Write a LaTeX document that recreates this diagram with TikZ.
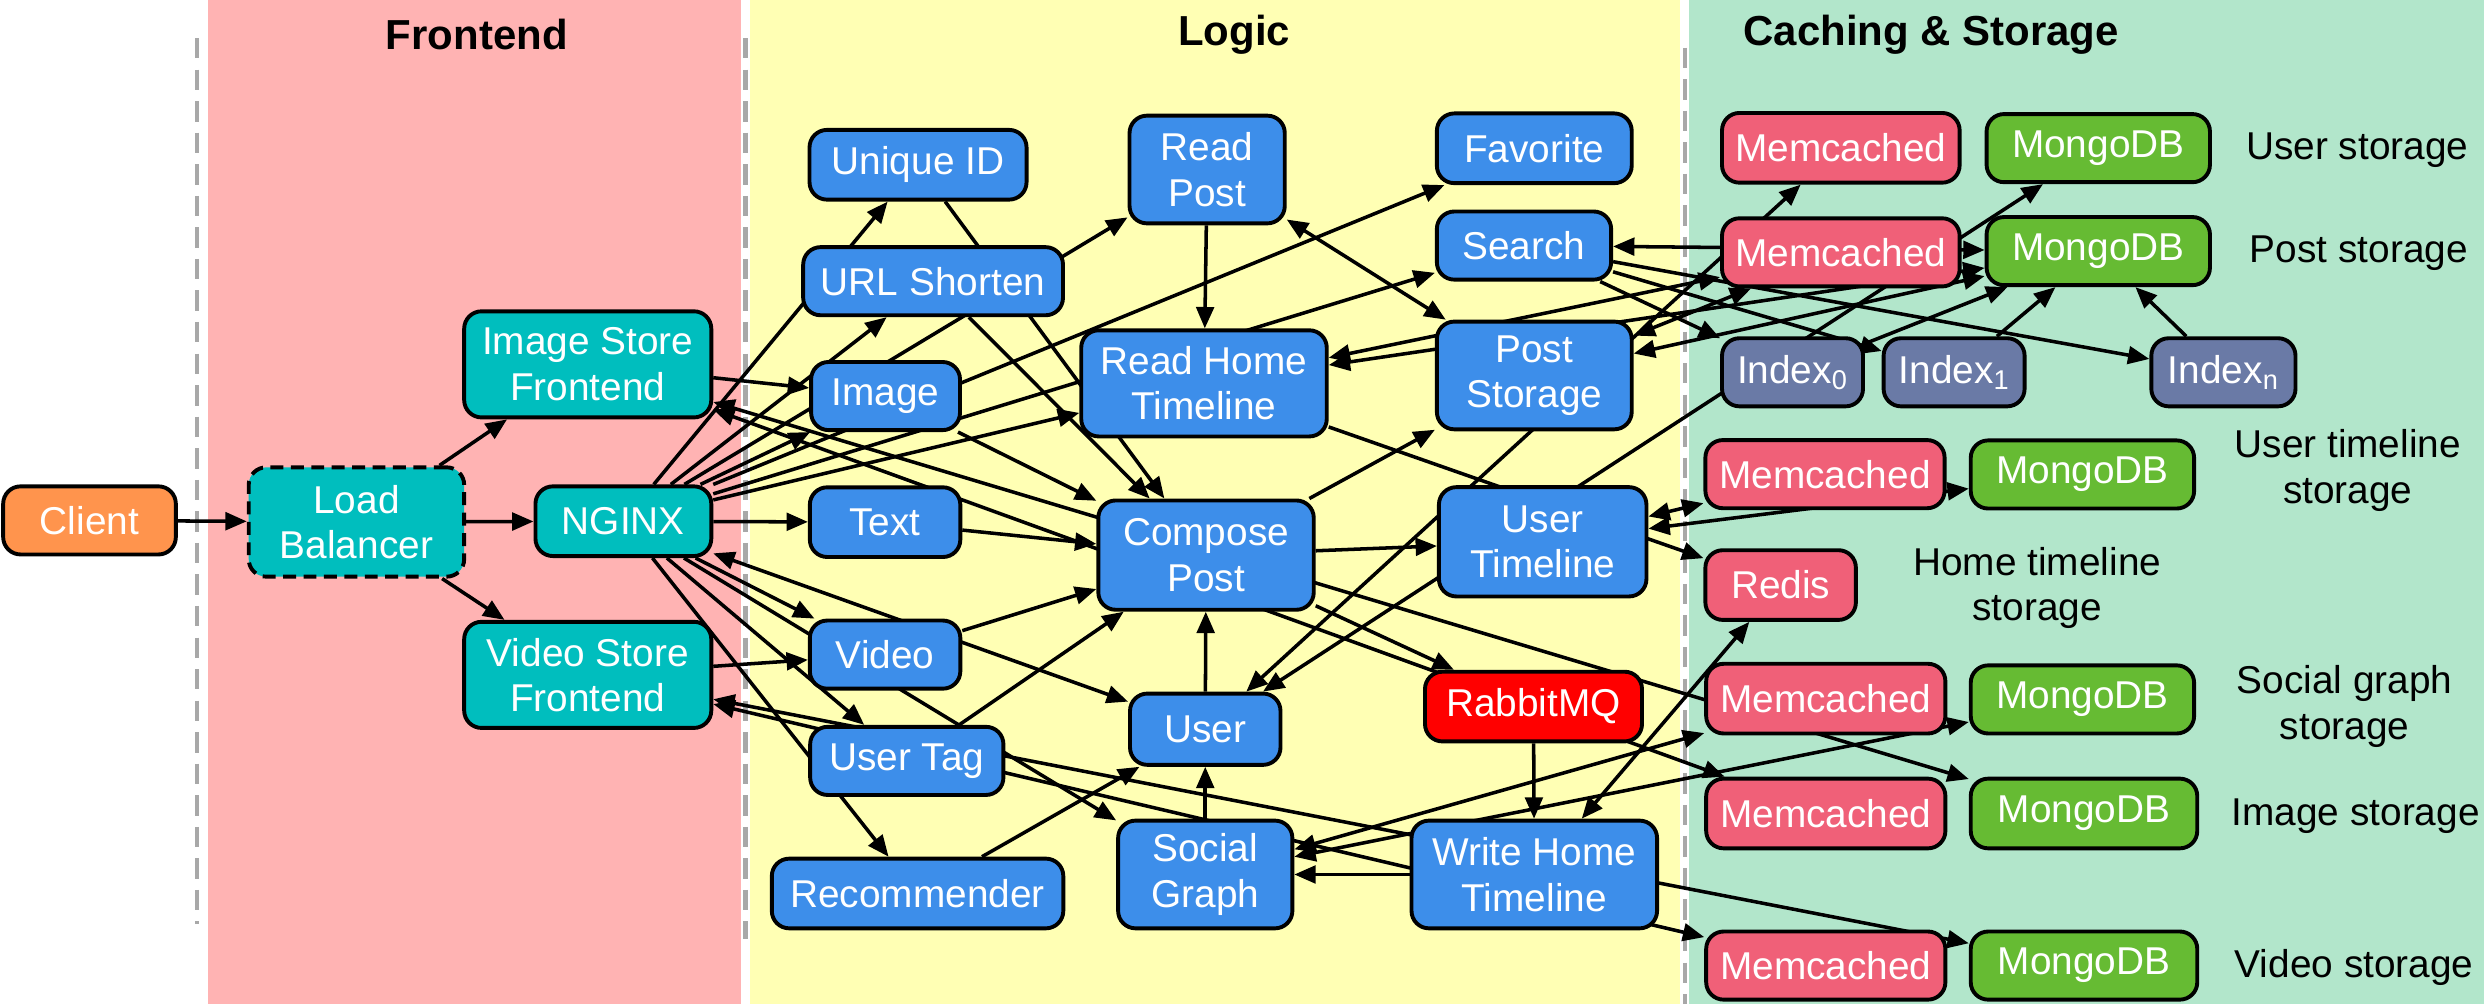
\documentclass[tikz,border=0pt]{standalone}
\usepackage{fontspec}
\setmainfont{Liberation Sans}
\usetikzlibrary{arrows.meta}
\definecolor{bandPink}{HTML}{FFB3B3}
\definecolor{bandYellow}{HTML}{FFFFB4}
\definecolor{bandGreen}{HTML}{B2E6CB}
\definecolor{cOrange}{HTML}{FF944D}
\definecolor{cTeal}{HTML}{00BEBE}
\definecolor{cBlue}{HTML}{3D8EEA}
\definecolor{cMem}{HTML}{F06078}
\definecolor{cMongo}{HTML}{66BB33}
\definecolor{cIndex}{HTML}{6A7AA6}
\definecolor{cRed}{HTML}{FF0000}
\definecolor{cDash}{HTML}{A8A8A8}
\newcommand{\nfont}{\fontsize{20.9pt}{24.5pt}\selectfont}
\newcommand{\tfont}{\fontsize{22.6pt}{26pt}\selectfont\bfseries}
\pgfdeclarelayer{bg}
\pgfdeclarelayer{edges}
\pgfsetlayers{bg,edges,main}
\tikzset{
  box/.style={draw=black, line width=2.1pt, rounded corners=0.33cm, text=white,
    align=center, inner sep=0pt, font=\nfont},
  sz/.style 2 args={minimum width=#1*0.03cm, minimum height=#2*0.03cm},
  front/.style={box, fill=cTeal},
  logic/.style={box, fill=cBlue},
  mem/.style={box, fill=cMem},
  mongo/.style={box, fill=cMongo},
  idx/.style={box, fill=cIndex},
  lbl/.style={align=center, font=\nfont, text=black},
  ttl/.style={font=\tfont, text=black},
  sep/.style={draw=cDash, line width=2.4pt, dash pattern=on 11pt off 6pt},
  e/.style={line width=1.9pt, -{Triangle[length=11.5pt,width=9.5pt]}},
  bi/.style={line width=1.9pt, {Triangle[length=11.5pt,width=9.5pt]}-{Triangle[length=11.5pt,width=9.5pt]}},
}
\begin{document}
\begin{tikzpicture}[x=0.03cm, y=-0.03cm]
\useasboundingbox (0,0) rectangle (1568,634);
\begin{pgfonlayer}{bg}
  \fill[white] (0,0) rectangle (1568,634);
  \fill[bandPink] (131.5,0) rectangle (468,634);
  \fill[bandYellow] (473.5,0) rectangle (1060.5,634);
  \fill[bandGreen] (1066,0) rectangle (1568,634);
  \draw[sep] (124.5,24) -- (124.5,583);
  \draw[sep] (470.5,24) -- (470.5,593);
  \draw[sep] (1063.5,30) -- (1063.5,634);
\end{pgfonlayer}

% titles
\node[ttl] (tFront) at (301,22) {Frontend};
\node[ttl] (tLogic) at (779,22) {Logic};
\node[ttl] (tStore) at (1219,22) {Caching \& Storage};

% frontend
\node[box, fill=cOrange, sz={109}{43}] (client) at (56.5,328.5) {Client};
\node[front, sz={136}{69}, dash pattern=on 7pt off 4pt] (lb) at (225,329.5) {Load\\Balancer};
\node[front, sz={156}{67}] (isf) at (371,230) {Image Store\\Frontend};
\node[front, sz={111}{44}] (nginx) at (393.5,329) {NGINX};
\node[front, sz={156}{67}] (vsf) at (371,426) {Video Store\\Frontend};

% logic
\node[logic, sz={137}{44}] (uid) at (579.5,104) {Unique ID};
\node[logic, sz={164}{43}] (url) at (589,177.5) {URL Shorten};
\node[logic, sz={98}{68}] (rp) at (762,107) {Read\\Post};
\node[logic, sz={123}{44}] (fav) at (968.5,93.6) {Favorite};
\node[logic, sz={110}{43}] (search) at (962,155) {Search};
\node[logic, sz={94}{43}] (img) at (559,250) {Image};
\node[logic, sz={155}{67}] (rht) at (760,242) {Read Home\\Timeline};
\node[logic, sz={123}{68}] (ps) at (968.5,237) {Post\\Storage};
\node[logic, sz={95}{44}] (txt) at (558.7,329.6) {Text};
\node[logic, sz={136}{69}] (cp) at (761.3,350.4) {Compose\\Post};
\node[logic, sz={131}{69}] (ut) at (973.8,342) {User\\Timeline};
\node[logic, sz={95}{43}] (video) at (558.7,413.2) {Video};
\node[logic, sz={95}{45}] (user) at (760.8,460.3) {User};
\node[box, fill=cRed, sz={137}{44}] (rmq) at (968,446) {RabbitMQ};
\node[logic, sz={122}{43}] (utag) at (572.4,480.3) {User Tag};
\node[logic, sz={184}{44}] (rec) at (579.2,564) {Recommender};
\node[logic, sz={110}{68}] (sg) at (760.8,552) {Social\\Graph};
\node[logic, sz={155}{68}] (wht) at (968.5,552) {Write Home\\Timeline};

% storage
\node[mem, sz={150}{44}] (m1) at (1162,93.3) {Memcached};
\node[mongo, sz={141}{43}] (g1) at (1324.5,93.5) {MongoDB};
\node[mem, sz={150}{43}] (m2) at (1162,159.3) {Memcached};
\node[mongo, sz={141}{43}] (g2) at (1324.5,158.5) {MongoDB};
\node[idx, sz={89}{43}] (i0) at (1131.5,235) {Index\textsubscript{0}};
\node[idx, sz={89}{43}] (i1) at (1233.5,235) {Index\textsubscript{1}};
\node[idx, sz={91}{43}] (ixn) at (1403.5,235) {Index\textsubscript{n}};
\node[mem, sz={151}{43}] (m3) at (1152,299.3) {Memcached};
\node[mongo, sz={141}{43}] (g3) at (1314.5,299.5) {MongoDB};
\node[mem, sz={95}{44}] (redis) at (1124,369.3) {Redis};
\node[mem, sz={151}{44}] (m4) at (1152.5,441) {Memcached};
\node[mongo, sz={141}{43}] (g4) at (1314.5,441.5) {MongoDB};
\node[mem, sz={151}{44}] (m5) at (1152.5,513.5) {Memcached};
\node[mongo, sz={143}{44}] (g5) at (1315.5,513.5) {MongoDB};
\node[mem, sz={151}{43}] (m6) at (1152.5,609.5) {Memcached};
\node[mongo, sz={143}{43}] (g6) at (1315.5,609.5) {MongoDB};

\node[lbl] (l1) at (1488,95) {User storage};
\node[lbl] (l2) at (1489,160) {Post storage};
\node[lbl] (l3) at (1482,297) {User timeline\\storage};
\node[lbl] (l4) at (1286,371) {Home timeline\\storage};
\node[lbl] (l5) at (1480,446) {Social graph\\storage};
\node[lbl] (l6) at (1487,515) {Image storage};
\node[lbl] (l7) at (1486,611) {Video storage};

\begin{pgfonlayer}{edges}
  \draw[e] (client) -- (lb);
  \draw[e] (lb) -- (isf);
  \draw[e] (lb) -- (nginx);
  \draw[e] (lb) -- (vsf);
  \draw[e] (isf) -- (img);
  \draw[e] (vsf) -- (video);
  \draw[e] (nginx) -- (txt);
  \draw[e] (nginx) -- (uid);
  \draw[e] (nginx) -- (url);
  \draw[e] (nginx) -- (rp);
  \draw[e] (nginx) -- (img);
  \draw[e] (nginx) -- (fav);
  \draw[e] (nginx) -- (search);
  \draw[e] (nginx) -- (rht);
  \draw[e] (nginx) -- (video);
  \draw[e] (nginx) -- (utag);
  \draw[e] (nginx) -- (rec);
  \draw[e] (nginx) -- (sg);
  \draw[bi] (nginx) -- (user);
  \draw[e] (txt) -- (cp);
  \draw[e] (img) -- (cp);
  \draw[e] (video) -- (cp);
  \draw[e] (utag) -- (cp);
  \draw[e] (uid) -- (cp);
  \draw[e] (url) -- (cp);
  \draw[e] (user) -- (cp);
  \draw[e] (rec) -- (user);
  \draw[e] (sg) -- (user);
  \draw[e] (rp) -- (rht);
  \draw[bi] (rp) -- (ps);
  \draw[e] (cp) -- (ps);
  \draw[e] (cp) -- (ut);
  \draw[e] (cp) -- (rmq);
  \draw[e] (rmq) -- (wht);
  \draw[e] (wht) -- (sg);
  \draw[bi] (wht) -- (redis);
  \draw[e] (rht) -- (redis);
  \draw[bi] (rht) -- (m2);
  \draw[bi] (rht) -- (g2);
  \draw[bi] (ps) -- (m2);
  \draw[bi] (ps) -- (g2);
  \draw[bi] (search) -- (g2);
  \draw[e] (search) -- (i0);
  \draw[e] (search) -- (i1);
  \draw[e] (search) -- (ixn);
  \draw[e] (i0) -- (g2);
  \draw[e] (i1) -- (g2);
  \draw[e] (ixn) -- (g2);
  \draw[bi] (user) -- (m1);
  \draw[bi] (user) -- (g1);
  \draw[bi] (ut) -- (m3);
  \draw[bi] (ut) -- (g3);
  \draw[bi] (sg) -- (m4);
  \draw[bi] (sg) -- (g4);
  \draw[bi] (isf) -- (m5);
  \draw[bi] (isf) -- (g5);
  \draw[bi] (vsf) -- (m6);
  \draw[bi] (vsf) -- (g6);
\end{pgfonlayer}
\end{tikzpicture}
\end{document}
